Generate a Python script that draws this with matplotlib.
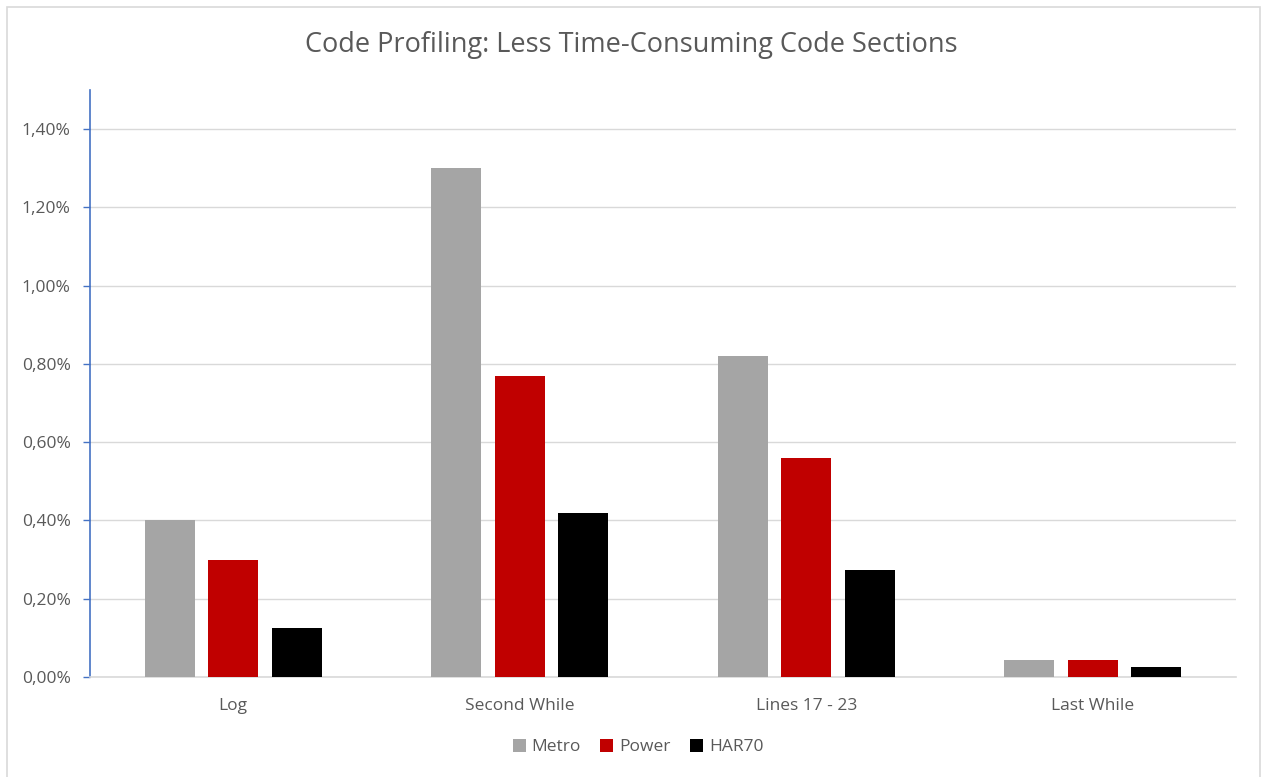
import matplotlib
matplotlib.use("Agg")
import matplotlib.pyplot as plt
import numpy as np
from matplotlib.patches import Rectangle
from matplotlib.ticker import FuncFormatter

categories = ["Log", "Second While", "Lines 17 - 23", "Last While"]
series_names = ["Metro", "Power", "HAR70"]
metro = [0.40, 1.30, 0.82, 0.043]
power = [0.30, 0.77, 0.56, 0.043]
har70 = [0.125, 0.42, 0.273, 0.026]
colors = ["#A5A5A5", "#C00000", "#000000"]

plt.rcParams["font.family"] = ["Open Sans", "DejaVu Sans"]
TXT = "#595959"

fig = plt.figure(figsize=(12.62, 7.77), dpi=100)
ax = fig.add_axes([90 / 1262, 1 - 677 / 777, (1236 - 90) / 1262, (677 - 90) / 777])

# light gray frame around the chart area
fig.patches.append(Rectangle((7 / 1262, -0.01), (1260 - 7) / 1262, 1 - 7 / 777 + 0.01,
                             transform=fig.transFigure, fill=False,
                             edgecolor="#D9D9D9", lw=1.2))

x = np.arange(len(categories))
width = 0.175
step = 0.222
for i, (vals, name) in enumerate(zip([metro, power, har70], series_names)):
    ax.bar(x + (i - 1) * step, vals, width, color=colors[i], label=name, zorder=3)

ax.set_xlim(-0.5, len(categories) - 0.5)
ax.set_ylim(0, 1.50)
ax.set_yticks(np.arange(0, 1.41, 0.2))
ax.yaxis.set_major_formatter(FuncFormatter(lambda v, _: f"{v:.2f}%".replace(".", ",")))
ax.set_xticks(x)
ax.set_xticklabels(categories)

ax.grid(axis="y", color="#D9D9D9", lw=1, zorder=0)
for s in ("top", "right"):
    ax.spines[s].set_visible(False)
ax.spines["left"].set_color("#4472C4")
ax.spines["left"].set_linewidth(1.2)
ax.spines["bottom"].set_color("#D9D9D9")
ax.spines["bottom"].set_linewidth(1.2)
ax.tick_params(axis="y", colors="#4472C4", length=5, width=1, labelcolor=TXT,
               labelsize=12.5, pad=9)
ax.tick_params(axis="x", length=0, labelcolor=TXT, labelsize=12.5, pad=15)

fig.text(0.5, 1 - 45 / 777, "Code Profiling: Less Time-Consuming Code Sections",
         ha="center", va="center", fontsize=19.5, color=TXT)

fig.legend(loc="center", bbox_to_anchor=(638 / 1262, 1 - 747 / 777), ncol=3,
           frameon=False, fontsize=12.5, labelcolor=TXT, handlelength=0.75,
           handleheight=0.75, handletextpad=0.35, columnspacing=1.1)

fig.savefig("out.png", dpi=100)
